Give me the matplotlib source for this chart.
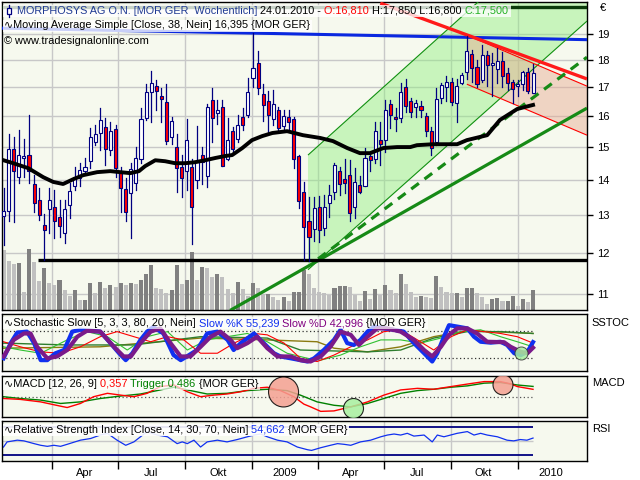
import numpy as np
import pandas as pd
import matplotlib
matplotlib.use('Agg')
import matplotlib.pyplot as plt
import matplotlib.ticker as mticker
import matplotlib.transforms as mtransforms
from matplotlib.patches import Rectangle, Polygon

plt.rcParams['font.family'] = ['Liberation Sans', 'DejaVu Sans']

# weekly candles, first week
start = pd.Timestamp('2008-01-25')

opens = [12.96, 13.1, 14.93, 14.08, 14.65, 14.75, 13.87, 13.4, 12.73, 13.17,
         13.22, 12.95, 12.52, 13.28, 13.81, 14.04, 14.26, 14.55, 15.16, 15.45,
         15.64, 14.9, 15.57, 14.2, 13.73, 13.6, 13.9, 14.62, 15.93, 16.83,
         17.03, 16.7, 16.47, 15.32, 15.0, 14.38, 14.26, 14.38, 13.99, 14.75,
         14.1, 16.55, 16.1, 16.3, 14.62, 15.5, 15.25, 15.96, 16.04, 17.33,
         17.9, 16.75, 16.5, 15.9, 16.2, 15.67, 15.97, 15.9, 14.72, 13.65,
         12.84, 12.62, 13.22, 12.65, 13.33, 13.65, 14.26, 14.02, 14.14, 13.22,
         13.85, 13.82, 14.7, 14.62, 15.2, 15.2, 16.41, 15.97, 15.93, 17.0,
         16.5, 16.3, 16.34, 16.0, 15.5, 15.14, 16.63, 17.0, 17.2, 16.45,
         17.17, 17.55, 18.25, 17.75, 17.27, 18.2, 17.82, 17.65, 17.95, 17.5,
         17.2, 17.05, 17.1, 17.55, 16.81]
highs = [13.76, 15.4, 15.3, 15.55, 15.26, 16.04, 14.14, 13.76, 13.02, 13.76,
         13.7, 13.42, 13.42, 13.9, 14.38, 14.5, 14.65, 15.6, 15.7, 16.28,
         15.93, 15.8, 15.7, 14.38, 14.05, 14.5, 15.0, 16.28, 17.1, 17.6,
         17.26, 16.97, 17.1, 15.97, 15.4, 14.75, 15.9, 14.62, 15.67, 15.0,
         16.4, 16.96, 16.55, 16.55, 15.93, 15.65, 16.04, 16.27, 17.33, 19.05,
         18.35, 17.1, 16.86, 16.9, 16.3, 16.2, 16.2, 15.97, 14.75, 13.93,
         13.5, 13.5, 13.52, 13.55, 13.85, 14.5, 14.38, 14.62, 14.59, 14.35,
         14.1, 14.95, 14.85, 15.8, 15.8, 16.55, 16.55, 16.27, 17.15, 17.3,
         16.63, 16.55, 16.5, 16.1, 15.63, 16.96, 17.15, 17.4, 17.35, 17.3,
         17.5, 18.93, 18.4, 18.0, 18.6, 18.35, 18.28, 18.45, 18.3, 17.7,
         17.25, 17.25, 17.6, 17.7, 17.85]
lows = [12.2, 12.82, 12.8, 13.9, 14.08, 13.9, 13.08, 12.87, 11.83, 12.52,
        12.39, 12.41, 12.26, 12.92, 13.7, 13.8, 14.2, 14.35, 15.06, 14.9,
        14.43, 14.75, 14.08, 13.08, 12.84, 12.38, 13.7, 14.5, 15.87, 15.8,
        16.2, 15.8, 15.1, 15.1, 13.65, 13.5, 13.7, 12.23, 13.76, 13.87,
        13.78, 15.16, 15.74, 14.42, 14.6, 14.85, 15.16, 15.54, 15.96, 17.0,
        16.77, 15.82, 15.45, 15.7, 15.5, 15.5, 15.5, 14.35, 13.2, 11.83,
        11.8, 12.3, 12.27, 12.45, 12.95, 13.45, 13.55, 13.62, 12.84, 12.92,
        13.6, 13.8, 14.25, 14.5, 14.43, 14.82, 15.6, 15.5, 15.8, 16.15,
        15.97, 15.97, 15.97, 15.35, 14.75, 15.07, 16.45, 16.5, 16.37, 15.8,
        17.1, 17.3, 17.2, 17.0, 17.2, 17.05, 16.7, 17.15, 17.0, 16.9,
        16.45, 16.7, 16.9, 16.8, 16.8]
closes = [13.1, 14.93, 14.26, 14.73, 14.66, 14.26, 13.33, 12.99, 12.58, 13.4,
          12.82, 12.7, 13.17, 13.67, 14.07, 14.29, 14.38, 15.3, 15.42, 15.87,
          14.93, 15.5, 14.35, 13.76, 13.08, 14.32, 14.65, 15.9, 16.83, 17.17,
          16.87, 16.6, 15.18, 15.84, 14.35, 14.05, 15.2, 13.22, 14.53, 14.53,
          16.3, 15.93, 16.2, 14.42, 15.2, 14.93, 15.7, 15.7, 16.83, 17.7,
          16.96, 16.37, 16.04, 16.41, 15.62, 16.0, 15.8, 14.62, 13.38, 12.68,
          12.4, 13.2, 12.6, 13.22, 13.55, 14.44, 13.87, 13.9, 13.05, 13.93,
          13.65, 14.65, 14.6, 15.5, 15.1, 16.2, 16.04, 15.9, 16.83, 16.34,
          16.14, 16.44, 16.2, 15.5, 14.97, 16.6, 17.07, 17.2, 16.48, 17.03,
          17.45, 18.33, 17.7, 17.1, 18.2, 17.8, 17.88, 17.95, 17.4, 17.15,
          16.93, 17.1, 17.55, 16.87, 17.5]
# weekly volume, thousand shares
volume = [600, 490, 460, 470, 180, 610, 480, 290, 420, 270,
          250, 300, 200, 140, 200, 100, 100, 270, 170, 280,
          220, 250, 230, 270, 250, 270, 260, 300, 360, 450,
          220, 210, 170, 200, 450, 260, 300, 580, 300, 430,
          420, 330, 360, 330, 210, 170, 280, 210, 140, 270,
          220, 160, 160, 130, 100, 130, 90, 180, 180, 400,
          360, 220, 180, 170, 150, 220, 240, 240, 230, 150,
          90, 190, 110, 210, 150, 250, 200, 170, 360, 260,
          180, 130, 140, 130, 120, 340, 230, 180, 170, 170,
          130, 220, 220, 170, 130, 60, 110, 120, 90, 90,
          140, 40, 110, 80, 200]

# moving average 38 (week index, value)
ma_x = [0, 1.9, 4.85, 7.8, 9.76, 11.7, 13.7, 15.65, 18.4, 20.95, 22.9, 24.9, 26.6,
        27.8, 29.8, 31.75, 33.7, 35.7, 37.6, 39.6, 41.6, 43.5, 44.9, 46.9, 48.8,
        50.8, 52.8, 55.7, 58.8, 62.2, 64.7, 67.5, 70.0, 72.0, 74.6, 77.3, 79.9,
        81.2, 84.4, 89.1, 91.0, 95.0, 97.5, 100.9, 104]
ma_v = [14.58, 14.49, 14.34, 14.07, 13.93, 13.87, 14.01, 14.13, 14.22, 14.25, 14.22,
        14.19, 14.25, 14.40, 14.58, 14.55, 14.49, 14.49, 14.52, 14.58, 14.65, 14.71,
        14.74, 14.96, 15.21, 15.34, 15.44, 15.50, 15.37, 15.28, 15.18, 14.96, 14.80,
        14.80, 14.96, 14.99, 14.99, 15.05, 15.08, 15.08, 15.21, 15.37, 15.87, 16.24,
        16.38]

# drawn lines: (week, price) end points
green_upper = [(59.8, 14.74), (114.6, 25.0)]
green_lower = [(59.8, 11.58), (114.6, 19.54)]
red_upper = [(91.0, 18.97), (114.6, 17.04)]
red_lower = [(91.0, 17.11), (114.6, 15.37)]
red_thick = [(74.0, 20.29), (114.6, 17.30)]
green_dashed = [(61.8, 11.85), (114.6, 18.11)]
green_solid = [(44.5, 10.63), (114.6, 16.27)]
support = [(6.8, 11.82), (114.6, 11.82)]
blue_line = [(-0.3, 19.25), (114.6, 18.79)]
top_line = [(-0.3, 20.12), (114.6, 20.12)]

# stochastic slow
k_x = [0, 1.4, 2.7, 4.6, 6, 7.3, 8.6, 10.2, 11.9, 13.5, 15.1, 17.1, 19, 21, 22.7, 24,
       25.3, 26.9, 28.2, 29.4, 31.4, 33.4, 34.8, 36, 38, 40, 42, 44, 45.2, 46.6, 49.2,
       51.1, 53.1, 54.4, 56.4, 58.3, 59.7, 61, 62.9, 64.9, 66.2, 67.5, 68.8, 70.1,
       71.5, 72.8, 74.7, 76.7, 78.6, 80.6, 82.6, 84.2, 85.2, 86.5, 87.5, 89.1, 91.1,
       92.4, 93.7, 95.7, 97.6, 98.9, 100.3, 101.6, 102.9, 104]
k_v = [20, 53, 76, 78, 53, 16, 16, 31, 38, 78, 82, 80, 78, 53, 31, 16, 31, 60, 78, 88,
       74, 27, 16, 24, 38, 74, 78, 60, 38, 53, 74, 53, 31, 24, 20, 16, 13, 20, 38, 60,
       82, 53, 49, 60, 78, 89, 85, 82, 78, 53, 31, 13, 31, 67, 92, 89, 85, 67, 56, 54,
       56, 49, 31, 27, 34, 55.2]
d_x = [0, 2, 4, 5.3, 6.6, 8.6, 10.5, 12.5, 14.5, 16.4, 19, 21.7, 23.6, 25, 26.9, 28.9,
       30.8, 32.8, 34.8, 36.7, 38.7, 40.7, 42.6, 44.6, 45.9, 47.9, 49.8, 51.8, 53.8,
       56.4, 58.3, 60.3, 62.3, 64.2, 66.2, 68.2, 69.8, 71.5, 73.4, 75.4, 78, 80.6,
       82.6, 84.2, 85.9, 87.5, 89.1, 91.1, 93, 95, 98.3, 99.6, 101.6, 102.9, 104]
d_v = [24, 60, 74, 74, 45, 20, 24, 38, 67, 80, 78, 45, 24, 24, 53, 78, 85, 53, 24, 24,
       45, 67, 78, 60, 42, 53, 67, 42, 24, 24, 16, 13, 24, 45, 78, 71, 49, 67, 85, 85,
       78, 60, 38, 24, 45, 71, 85, 85, 74, 56, 55, 45, 34, 31, 43]
sr_x = [0, 3.3, 7.3, 11.2, 15.1, 19, 22.3, 25.6, 28.9, 32.2, 35.4, 38.7, 42, 45.3, 49.2,
        51.8, 55.1, 58.3, 61.6, 64.9, 68.2, 71.5, 74.7, 78, 81.3, 84.5, 87.9, 91.1,
        94.4, 97.6, 100.9, 104]
sr_v = [56, 45, 34, 31, 45, 67, 78, 67, 56, 67, 60, 31, 31, 53, 74, 71, 53, 20, 13, 27,
        45, 60, 78, 82, 60, 38, 67, 82, 78, 74, 67, 53]
sg_x = [0, 3.3, 7.3, 12.5, 16.4, 20.4, 24.3, 28.2, 32.2, 36.1, 40, 43.9, 47.9, 51.8,
        55.7, 59.7, 62.3, 66.2, 70.1, 74.1, 78, 81.9, 85.9, 89.8, 93.7, 97.6, 100.9, 104]
sg_v = [45, 38, 31, 60, 78, 67, 38, 67, 78, 38, 60, 67, 74, 56, 31, 20, 16, 27, 45, 60,
        60, 53, 64, 78, 82, 67, 56, 45]
sdg_x = [0, 12.5, 25.6, 38.7, 51.8, 58.3, 71.5, 78, 84.5, 91.1, 97.6, 104]
sdg_v = [53, 49, 49, 67, 64, 38, 34, 38, 64, 78, 78, 74]
so_x = [0, 19, 38.7, 51.8, 61.6, 64.9, 71.5, 78, 84.5, 91.1, 104]
so_v = [42, 45, 64, 60, 56, 42, 34, 45, 67, 80, 74]

# MACD
macd_x = [0, 3.3, 7.3, 11.2, 12.5, 15.1, 17.7, 20.4, 23, 25.6, 28.2, 30.8, 33.5, 36.1,
          38.7, 41.3, 43.9, 46.6, 49.2, 51.8, 54.4, 57, 59, 60.3, 62.3, 64.9, 68.2,
          71.5, 74.7, 78, 81.3, 84.5, 87.9, 91.1, 94.4, 97.6, 99.6, 100.9, 104]
macd_v = [-0.05, -0.09, -0.2, -0.39, -0.45, -0.27, 0.03, 0.18, 0.1, 0.03, 0.18, 0.48,
          0.55, 0.25, 0.03, 0.1, 0.15, 0.25, 0.4, 0.45, 0.3, 0.03, -0.3, -0.42, -0.62,
          -0.6, -0.42, -0.2, 0.1, 0.33, 0.4, 0.36, 0.48, 0.59, 0.7, 0.7, 0.6, 0.48, 0.357]
trig_x = [0, 3.3, 7.3, 11.2, 15.1, 19, 23, 26.9, 30.8, 33.5, 36.1, 40, 43.9, 47.9, 51.8,
          55.7, 58.3, 61.6, 64.9, 68.2, 71.5, 74.7, 78, 81.3, 84.5, 87.9, 91.1, 94.4,
          97.6, 100.9, 104]
trig_v = [0.03, -0.05, -0.12, -0.27, -0.2, -0.05, 0.06, 0.15, 0.33, 0.45, 0.33, 0.15,
          0.18, 0.3, 0.36, 0.3, 0.1, -0.2, -0.35, -0.42, -0.27, -0.05, 0.18, 0.3, 0.36,
          0.45, 0.51, 0.63, 0.66, 0.55, 0.486]

# RSI
rsi_x = [0, 0.7, 2.7, 4, 6, 7.3, 8.6, 9.9, 11.2, 12.5, 15.1, 17.1, 19, 20.4, 22.3, 24,
         25.6, 26.9, 28.2, 30.2, 32.2, 34.1, 35.1, 36.1, 37.4, 38.7, 40, 42, 43.9, 45.9,
         47.9, 49.2, 50.5, 51.8, 53.8, 55.7, 57.7, 59.7, 60.5, 62.3, 64.2, 65.6, 66.9,
         68.2, 70.1, 72.1, 74.1, 75.4, 76.7, 78, 79.3, 80.6, 82.6, 84.2, 85.2, 86.5,
         89.1, 91.1, 92.4, 93.7, 95, 97, 98.9, 100.2, 101.5, 102.8, 104]
rsi_v = [41.7, 49.1, 51.6, 50.6, 46.6, 44.2, 42.7, 44.2, 42.7, 45.6, 51.6, 54, 59, 61.5,
         51.6, 44.2, 49.1, 56.5, 64, 59, 56.5, 46.6, 49.1, 46.6, 51.6, 41.7, 49.1, 51.6,
         49.1, 52.5, 56.5, 59, 60.5, 56.5, 51.6, 49.1, 41.7, 37.8, 36.8, 40.7, 44.2, 46.6,
         45.6, 44.2, 49.1, 51.6, 56.5, 59, 60.5, 59, 61.5, 57.5, 59, 49.1, 59, 56.5, 61.5,
         64, 59, 61.5, 59, 56.5, 51.6, 50.6, 52.5, 51.6, 54.66]

quarters = ['2008-04-01', '2008-07-01', '2008-10-01', '2009-01-01',
            '2009-04-01', '2009-07-01', '2009-10-01', '2010-01-01']
q_labels = ['Apr', 'Jul', 'Okt', '2009', 'Apr', 'Jul', 'Okt', '2010']
price_ticks = [11, 12, 13, 14, 15, 16, 17, 18, 19]

q_pos = [(pd.Timestamp(d) - start).days / 7 for d in quarters]
q_mid = [q + 45 / 7 for q in q_pos]
weeks = np.arange(len(opens))
xlim = (-0.3, 114.6)

BG = '#F6F9EE'
NAVY = '#000080'
GRID = '#C8C8C8'

fig = plt.figure(figsize=(6.4, 4.8), dpi=100)
fig.patch.set_facecolor('white')


def panel(top, bottom):
    a = fig.add_axes([2 / 640, (480 - bottom) / 480, 585 / 640, (bottom - top) / 480])
    a.set_facecolor(BG)
    a.set_xlim(*xlim)
    a.set_axisbelow(True)
    for s in a.spines.values():
        s.set_color('black')
        s.set_linewidth(1)
    a.set_xticks(q_pos)
    a.tick_params(axis='x', length=0, labelbottom=False)
    a.grid(True, axis='x', color=GRID, lw=1)
    return a


renderer = fig.canvas.get_renderer()


def rainbow(a, x, y, parts, size=7.8, alpha=0.78):
    # coloured pieces side by side, one half-transparent box behind them
    tr = a.transAxes
    exts = []
    for s, c in parts:
        t = a.text(x, y, s, transform=tr, fontsize=size, color=c,
                   va='center', ha='left', zorder=10)
        t.draw(renderer)
        ex = t.get_window_extent(renderer)
        exts.append(ex)
        tr = mtransforms.offset_copy(tr, x=ex.width, units='dots')
    if alpha:
        left = a.transAxes.transform((0, 0))[0] + 1
        x1 = exts[-1].x1 + 2
        y0 = min(e.y0 for e in exts) - 1
        y1 = max(e.y1 for e in exts) + 1
        a.add_artist(Rectangle((left, y0), x1 - left, y1 - y0,
                               transform=mtransforms.IdentityTransform(),
                               fc='white', ec='none', alpha=alpha, zorder=9, clip_on=False))


# ---------------- main price panel
ax = panel(2, 310)
ax.set_yscale('log')
ax.set_ylim(10.64, 20.34)
ax.set_yticks(price_ticks)
ax.set_yticklabels([str(t) for t in price_ticks])
ax.yaxis.set_minor_locator(mticker.NullLocator())
ax.yaxis.tick_right()
ax.tick_params(axis='y', direction='out', length=4, width=1, labelsize=8, pad=3)
ax.grid(True, axis='y', color=GRID, lw=1)

ax.add_patch(Polygon([green_upper[0], green_upper[1], green_lower[1], green_lower[0]],
                     closed=True, fc='#90EE80', ec='none', alpha=0.45, zorder=1))
ax.add_patch(Polygon([red_upper[0], red_upper[1], red_lower[1], red_lower[0]],
                     closed=True, fc='#E8A890', ec='none', alpha=0.45, zorder=1.1))

# volume at the bottom of the price panel
vol_top = 3080
blend = mtransforms.blended_transform_factory(ax.transData, ax.transAxes)
for i, v in enumerate(volume):
    dark = i > 0 and v >= volume[i - 1]
    ax.add_patch(Rectangle((i - 0.4, 0), 0.8, v / vol_top, transform=blend,
                           fc='#808080' if dark else '#C0C0C0', ec='none', zorder=2))


def seg(pts, **kw):
    ax.plot([p[0] for p in pts], [p[1] for p in pts], solid_capstyle='butt', **kw)


seg(top_line, color='#0B3B0B', lw=2.4, zorder=3)
seg(blue_line, color='#0A28E0', lw=2.2, zorder=3)
seg(green_upper, color='#109010', lw=0.8, zorder=3)
seg(green_lower, color='#109010', lw=0.8, zorder=3)
seg(red_upper, color='#FF0000', lw=0.8, zorder=3)
seg(red_lower, color='#FF0000', lw=0.8, zorder=3)
seg(green_solid, color='#168A16', lw=2.3, zorder=3)
ax.plot([p[0] for p in green_dashed], [p[1] for p in green_dashed], color='#168A16',
        lw=2.3, dashes=(3, 2.2), zorder=3)
seg(support, color='black', lw=2.4, zorder=3)
seg(red_thick, color='#FF1A1A', lw=2.4, zorder=3.2)

# candles
for i in weeks:
    o, h, l, c = opens[i], highs[i], lows[i], closes[i]
    ax.plot([i, i], [l, h], color=NAVY, lw=0.9, zorder=4)
    lo, hi = min(o, c), max(o, c)
    if hi / lo < 1.004:
        hi = lo * 1.004
    ax.add_patch(Rectangle((i - 0.3, lo), 0.6, hi - lo, fc='red' if c < o else 'white',
                           ec=NAVY, lw=0.8, zorder=4.5))

ax.plot(ma_x, ma_v, color='black', lw=2.8, zorder=5, solid_joinstyle='round')

# header texts
rainbow(ax, 15 / 585, 1 - 8.5 / 308,
        [('MORPHOSYS AG O.N. [MOR GER  Wöchentlich] ', '#1F3A93'),
         ('24.01.2010 - ', 'black'), ('O:16,810 ', '#FF0000'),
         ('H:17,850 L:16,800 ', 'black'), ('C:17,500', '#22B022')])
ax.plot([7 / 585, 7 / 585], [1 - 3 / 308, 1 - 15 / 308], transform=ax.transAxes,
        color=NAVY, lw=0.9, zorder=11)
ax.add_patch(Rectangle((5 / 585, 1 - 12 / 308), 4 / 585, 6 / 308, transform=ax.transAxes,
                       fc='white', ec=NAVY, lw=0.9, zorder=11))
rainbow(ax, 2 / 585, 1 - 23.5 / 308,
        [('\u223fMoving Average Simple [Close, 38, Nein] 16,395 {MOR GER}', 'black')])
ax.text(2 / 585, 1 - 39.5 / 308, '\u00a9 www.tradesignalonline.com', transform=ax.transAxes,
        fontsize=7.9, va='center', ha='left', zorder=10)
ax.text(601 / 585, 1 - 6 / 308, '\u20ac', transform=ax.transAxes, fontsize=8,
        va='center', ha='center')

# ---------------- stochastic
ax2 = panel(314, 371)
ax2.set_ylim(-7.6, 116.3)
ax2.set_yticks([])
ax2.hlines([20, 80], -0.3, 104, colors='#333333', lw=0.9, linestyles=(0, (1, 2)), zorder=1)
ax2.plot(so_x, so_v, color='#8A7A10', lw=1, zorder=2)
ax2.plot(sdg_x, sdg_v, color='#2E7D2E', lw=1, zorder=2)
ax2.plot(sg_x, sg_v, color='#30C030', lw=0.8, zorder=2)
ax2.plot(sr_x, sr_v, color='#FF0000', lw=0.8, zorder=2)
ax2.plot(k_x, k_v, color='#1030F0', lw=3, zorder=3, solid_joinstyle='round')
ax2.plot(d_x, d_v, color='#7A1A8A', lw=3, zorder=3.1, solid_joinstyle='round')
ax2.scatter([101.6], [31], s=88, fc='#A8F0A0', ec='#333333', lw=0.7, zorder=4, alpha=0.85)
rainbow(ax2, 2 / 585, 1 - 9 / 57,
        [('\u223fStochastic Slow [5, 3, 3, 80, 20, Nein] ', 'black'),
         ('Slow %K 55,239 ', '#1030F0'), ('Slow %D 42,996 ', '#800080'),
         ('{MOR GER}', 'black')], size=7.9, alpha=0.7)
ax2.text(1.008, 1 - 9 / 57, 'SSTOC', transform=ax2.transAxes, fontsize=8,
         va='center', ha='left')

# ---------------- MACD
ax3 = panel(375.5, 417)
ax3.set_ylim(-0.87, 0.97)
ax3.set_yticks([])
ax3.hlines([0], -0.3, 104, colors='#555555', lw=0.9, linestyles=(0, (1, 2)), zorder=1)
ax3.plot(trig_x, trig_v, color='#008000', lw=1, zorder=2)
ax3.plot(macd_x, macd_v, color='#FF0000', lw=1, zorder=2)
ax3.scatter([55, 98.1], [0.24, 0.555], s=[467, 207], fc='#F4A092', ec='black',
            lw=0.8, zorder=4, alpha=0.85)
ax3.scatter([68.6], [-0.48], s=207, fc='#A8F0A0', ec='black', lw=0.8, zorder=4, alpha=0.85)
rainbow(ax3, 2 / 585, 1 - 8.5 / 41.5,
        [('\u223fMACD [12, 26, 9] ', 'black'), ('0,357 ', '#FF0000'),
         ('Trigger 0,486 ', '#008000'), ('{MOR GER}', 'black')], size=7.9, alpha=0.7)
ax3.text(1.008, 1 - 8 / 41.5, 'MACD', transform=ax3.transAxes, fontsize=8,
         va='center', ha='left')

# ---------------- RSI
ax4 = panel(421, 461)
ax4.set_ylim(21.5, 79.3)
ax4.set_yticks([])
ax4.hlines([50], -0.3, 104, colors=GRID, lw=1, zorder=1)
ax4.hlines([30, 70], -0.3, 104, colors=NAVY, lw=1.3, zorder=1.5)
ax4.plot(rsi_x, rsi_v, color='#1030F0', lw=0.9, zorder=2)
rainbow(ax4, 2 / 585, 1 - 9 / 40,
        [('\u223fRelative Strength Index [Close, 14, 30, 70, Nein] ', 'black'),
         ('54,662 ', '#1030F0'), ('{MOR GER}', 'black')], size=7.9, alpha=0.9)
ax4.text(1.008, 1 - 8 / 40, 'RSI', transform=ax4.transAxes, fontsize=8,
         va='center', ha='left')
ax4.set_xticks(q_mid, minor=True)
ax4.set_xticklabels(q_labels, minor=True)
ax4.tick_params(axis='x', which='major', length=6, width=1, direction='out',
                labelbottom=False)
ax4.tick_params(axis='x', which='minor', length=0, pad=5, labelsize=8, labelbottom=True)

fig.savefig('out.png', dpi=100, facecolor='white')
